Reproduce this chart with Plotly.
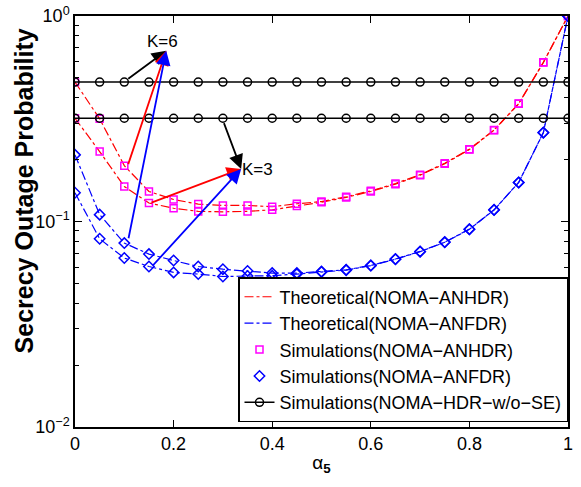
import plotly.graph_objects as go

alpha = [0.0, 0.05, 0.1, 0.15, 0.2, 0.25, 0.3, 0.35, 0.4, 0.45, 0.5,
         0.55, 0.6, 0.65, 0.7, 0.75, 0.8, 0.85, 0.9, 0.95, 1.0]

anhdr_k6 = [0.477, 0.316, 0.187, 0.140, 0.128, 0.1215, 0.1197, 0.1197, 0.118, 0.122, 0.125,
            0.132, 0.141, 0.153, 0.169, 0.192, 0.225, 0.279, 0.375, 0.595, 1.0]
anhdr_k3 = [0.318, 0.219, 0.148, 0.123, 0.116, 0.112, 0.1115, 0.112, 0.114, 0.119, 0.124,
            0.131, 0.140, 0.152, 0.168, 0.191, 0.224, 0.278, 0.374, 0.594, 1.0]
anfdr_k6 = [0.211, 0.108, 0.0785, 0.0694, 0.0646, 0.0604, 0.0586, 0.0575, 0.0561, 0.0561, 0.0571,
            0.0582, 0.0611, 0.0657, 0.0715, 0.0794, 0.0918, 0.114, 0.155, 0.271, 1.0]
anfdr_k3 = [0.138, 0.0824, 0.0664, 0.0604, 0.0565, 0.0555, 0.054, 0.0543, 0.0545, 0.0555, 0.0568,
            0.058, 0.061, 0.0655, 0.0713, 0.0792, 0.0916, 0.1138, 0.1548, 0.2705, 1.0]
hdr_wo_se_k6 = [0.477] * 21
hdr_wo_se_k3 = [0.318] * 21

y_tickvals = [0.01, 0.1, 1]
y_ticktext = ["10<sup>\u22122</sup>", "10<sup>\u22121</sup>", "10<sup>0</sup>"]
x_tickvals = [0, 0.2, 0.4, 0.6, 0.8, 1]

FONT = "Liberation Sans, Arial, Helvetica, sans-serif"
RED, BLUE, MAG, BLK = "#ff0000", "#0000ff", "#ff00ff", "#000000"

fig = go.Figure()

# theoretical lines
for i, ys in enumerate([anhdr_k6, anhdr_k3]):
    fig.add_trace(go.Scatter(x=alpha, y=ys, mode="lines",
                             line=dict(color=RED, width=1.2, dash="dashdot"),
                             name="Theoretical(NOMA\u2212ANHDR)", legendgroup="a",
                             showlegend=(i == 0), legendrank=1))
for i, ys in enumerate([anfdr_k6, anfdr_k3]):
    fig.add_trace(go.Scatter(x=alpha, y=ys, mode="lines",
                             line=dict(color=BLUE, width=1.2, dash="dashdot"),
                             name="Theoretical(NOMA\u2212ANFDR)", legendgroup="b",
                             showlegend=(i == 0), legendrank=2))
# simulations
for i, ys in enumerate([anhdr_k6, anhdr_k3]):
    fig.add_trace(go.Scatter(x=alpha, y=ys, mode="markers",
                             marker=dict(symbol="square-open", size=7, color=MAG, line=dict(width=1.5)),
                             name="Simulations(NOMA\u2212ANHDR)", legendgroup="c",
                             showlegend=(i == 0), legendrank=3))
for i, ys in enumerate([anfdr_k6, anfdr_k3]):
    fig.add_trace(go.Scatter(x=alpha, y=ys, mode="markers",
                             marker=dict(symbol="diamond-open", size=8, color=BLUE, line=dict(width=1.5)),
                             name="Simulations(NOMA\u2212ANFDR)", legendgroup="d",
                             showlegend=(i == 0), legendrank=4))
for i, ys in enumerate([hdr_wo_se_k6, hdr_wo_se_k3]):
    fig.add_trace(go.Scatter(x=alpha, y=ys, mode="lines+markers",
                             line=dict(color=BLK, width=1.5),
                             marker=dict(symbol="circle-open", size=8, color=BLK, line=dict(width=1.5)),
                             name="Simulations(NOMA\u2212HDR\u2212w/o\u2212SE)", legendgroup="e",
                             showlegend=(i == 0), legendrank=5))

# annotations: arrows (tip, tail) in data units, y in log10
k6_tip = (0.185, -0.169)
k3_tip = (0.337, -0.744)
arrows = [
    (k6_tip, (0.105, -0.311), BLK),
    (k6_tip, (0.107, -0.728), RED),
    (k6_tip, (0.108, -1.089), BLUE),
    (k3_tip, (0.301, -0.514), BLK),
    (k3_tip, (0.152, -0.911), RED),
    (k3_tip, (0.156, -1.219), BLUE),
]
for tip, tail, col in arrows:
    fig.add_annotation(x=tip[0], y=tip[1], ax=tail[0], ay=tail[1],
                       xref="x", yref="y", axref="x", ayref="y",
                       showarrow=True, arrowhead=2, arrowsize=1.6, arrowwidth=1.8,
                       arrowcolor=col, standoff=0, startstandoff=0, text="")
fig.add_annotation(x=0.1766, y=-0.126, text="K=6", showarrow=False,
                   font=dict(size=17, color="black", family=FONT))
fig.add_annotation(x=0.371, y=-0.749, text="K=3", showarrow=False,
                   font=dict(size=17, color="black", family=FONT))

# y-axis title as rotated annotation (positioned like the reference)
fig.add_annotation(xref="paper", yref="paper", x=-0.104, y=0.575,
                   xanchor="center", yanchor="middle", textangle=-90,
                   text="<b>Secrecy Outage Probability</b>", showarrow=False,
                   font=dict(size=25, color="black", family=FONT))

fig.update_layout(
    width=581, height=487,
    margin=dict(l=75, r=13, t=16, b=60, autoexpand=False),
    paper_bgcolor="white", plot_bgcolor="white",
    font=dict(family=FONT, size=18, color="black"),
    showlegend=True,
    legend=dict(x=1, y=0.012, xanchor="right", yanchor="bottom",
                bgcolor="white", bordercolor="black", borderwidth=1.5,
                font=dict(size=18, family=FONT), tracegroupgap=0,
                itemwidth=30),
    xaxis=dict(range=[0, 1], tickvals=x_tickvals, ticks="inside", ticklen=7,
               showline=True, linecolor="black", linewidth=1.5, mirror="ticks",
               showgrid=False, zeroline=False, tickcolor="black", automargin=False,
               title=dict(text="\u03b1<sub><b>5</b></sub>", font=dict(size=19), standoff=2)),
    yaxis=dict(type="log", range=[-2, 0], tickvals=y_tickvals, ticktext=y_ticktext,
               ticks="inside", ticklen=7, tickcolor="black", automargin=False,
               showline=True, linecolor="black", linewidth=1.5, mirror="ticks",
               showgrid=False, zeroline=False,
               minor=dict(ticks="inside", ticklen=4, dtick="D1", tickcolor="black", showgrid=False)),
)

fig.write_html("out.html", config={"displayModeBar": False},
               post_script="document.body.style.margin='0px';document.body.style.padding='0px';")
